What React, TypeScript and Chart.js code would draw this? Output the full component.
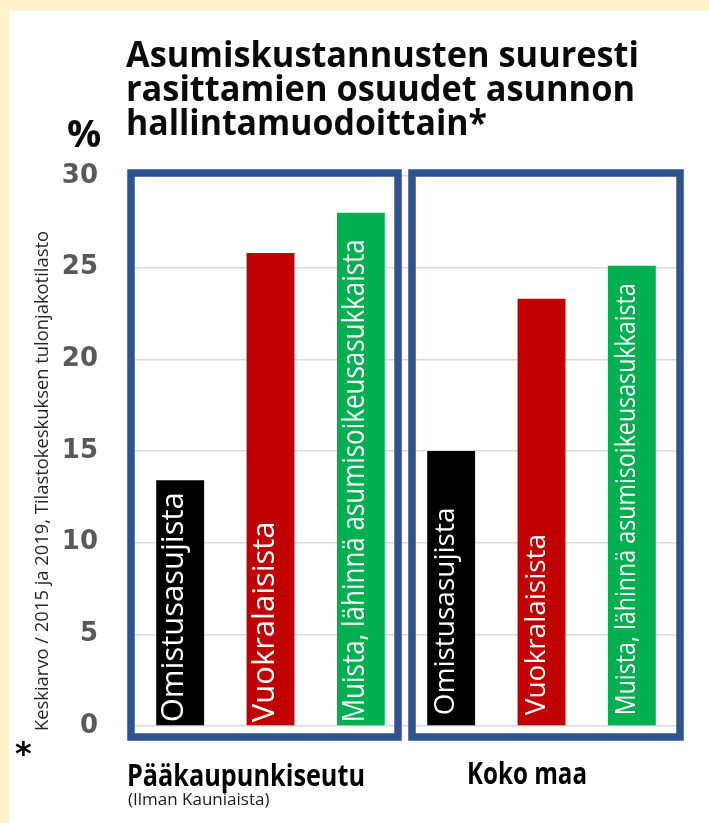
import React, { useEffect, useRef } from "react";
import { Chart, registerables } from "chart.js";

Chart.register(...registerables);

// ---- data ----
const titleLines = [
  "Asumiskustannusten suuresti",
  "rasittamien osuudet asunnon",
  "hallintamuodoittain*",
];
const unitLabel = "%";
const footnote = "Keskiarvo / 2015 ja 2019, Tilastokeskuksen tulonjakotilasto";
const groups = ["Pääkaupunkiseutu", "Koko maa"];
const groupNotes = ["(Ilman Kauniaista)", ""];
const tenures = ["Omistusasujista", "Vuokralaisista", "Muista, lähinnä asumisoikeusasukkaista"];
const capitalValues = [13.4, 25.8, 28.0];
const countryValues = [15.0, 23.3, 25.1];
const yMin = 0;
const yMax = 30;
const yStep = 5;

const tenureColors = ["#000000", "#C00000", "#00B050"];
const CREAM = "#FFF2CC";
const BOX = "#2F5391";

const FONT = "'Open Sans', 'Noto Sans', sans-serif";

const decorPlugin = {
  id: "decor",
  beforeDraw(chart: any) {
    const ctx = chart.ctx;
    ctx.save();
    ctx.fillStyle = CREAM;
    ctx.fillRect(0, 0, chart.width, chart.height);
    ctx.fillStyle = "#ffffff";
    ctx.fillRect(9, 11, chart.width - 9, chart.height - 11);
    ctx.restore();
  },
  afterDatasetsDraw(chart: any) {
    const ctx = chart.ctx;
    const area = chart.chartArea;
    const ys = chart.scales.y;
    const meta = chart.getDatasetMeta(0);
    ctx.save();

    // bar labels (vertical, white)
    meta.data.forEach((bar: any, i: number) => {
      const g = Math.floor(i / tenures.length);
      const size = g === 0 ? 31 : 28;
      const maxLen = g === 0 ? 483 : 432;
      ctx.save();
      ctx.translate(bar.x + 3, bar.base - (g === 0 ? 3 : 10));
      ctx.rotate(-Math.PI / 2);
      ctx.fillStyle = "#ffffff";
      ctx.font = `${size}px ${FONT}`;
      ctx.textAlign = "left";
      ctx.textBaseline = "alphabetic";
      ctx.fillText(tenures[i % tenures.length], 0, 0, maxLen);
      ctx.restore();
    });

    // group boxes
    const n = chart.data.labels.length;
    const w = (area.right - area.left) / n;
    const boundary = area.left + w * tenures.length - 1;
    const top = ys.getPixelForValue(yMax) - 3;
    const bottom = ys.getPixelForValue(yMin) + 11;
    const boxes = [
      [area.left - 4, boundary - 7],
      [boundary + 7, area.right + 3],
    ];
    ctx.strokeStyle = BOX;
    ctx.lineWidth = 7.5;
    boxes.forEach(([l, r]) => {
      ctx.strokeRect(l, top, r - l, bottom - top);
    });

    // group labels
    ctx.fillStyle = "#000000";
    ctx.textAlign = "left";
    ctx.textBaseline = "alphabetic";
    ctx.font = `bold 31px ${FONT}`;
    ctx.fillText(groups[0], boxes[0][0] - 4, 786, 238);
    ctx.fillText(groups[1], boxes[1][0] + 55, 784, 120);
    ctx.font = `17px ${FONT}`;
    ctx.fillStyle = "#1a1a1a";
    ctx.fillText(groupNotes[0], boxes[0][0] - 3, 805, 154);

    ctx.restore();
  },
  afterDraw(chart: any) {
    const ctx = chart.ctx;
    ctx.save();
    // title
    ctx.fillStyle = "#0a0a0a";
    ctx.textAlign = "left";
    ctx.textBaseline = "alphabetic";
    ctx.font = `bold 35px ${FONT}`;
    const widths = [513, 509, 361];
    const baselines = [67, 101, 135];
    titleLines.forEach((t, i) => ctx.fillText(t, 126, baselines[i], widths[i]));
    // unit
    ctx.font = `bold 38px ${FONT}`;
    ctx.fillText(unitLabel, 67, 147, 38);
    // footnote
    ctx.save();
    ctx.translate(48, 731);
    ctx.rotate(-Math.PI / 2);
    ctx.font = `19px ${FONT}`;
    ctx.fillStyle = "#262626";
    ctx.fillText(footnote, 0, 0, 500);
    ctx.restore();
    // asterisk
    ctx.font = `bold 32px 'DejaVu Sans', sans-serif`;
    ctx.fillStyle = "#000000";
    ctx.fillText("*", 15, 764);
    ctx.restore();
  },
};

export default function App() {
  const ref = useRef<HTMLCanvasElement>(null);
  useEffect(() => {
    if (!ref.current) return;
    const labels = groups.flatMap((g) => tenures.map((t) => `${g}: ${t}`));
    const values = [...capitalValues, ...countryValues];
    const colors = groups.flatMap(() => tenureColors);
    const chart = new Chart(ref.current, {
      type: "bar",
      data: {
        labels,
        datasets: [
          {
            data: values,
            backgroundColor: colors,
            borderWidth: 0,
            barPercentage: 0.53,
            categoryPercentage: 1,
          },
        ],
      },
      options: {
        responsive: false,
        animation: false,
        devicePixelRatio: 1,
        layout: { padding: { left: 55, right: 32, top: 176, bottom: 97 } },
        plugins: { legend: { display: false }, tooltip: { enabled: false }, title: { display: false } },
        scales: {
          x: { display: false },
          y: {
            min: yMin,
            max: yMax,
            border: { display: false },
            grid: { color: "#D9D9D9", lineWidth: 1.5, drawTicks: false },
            ticks: {
              stepSize: yStep,
              padding: 37,
              color: "#595959",
              font: { family: "'DejaVu Sans', sans-serif", size: 26, weight: "bold" },
            },
            afterFit: (s: any) => {
              s.width = 80;
            },
          },
        },
      },
      plugins: [decorPlugin],
    });
    return () => chart.destroy();
  }, []);
  return (
    <div style={{ position: "absolute", left: 0, top: 0, width: 709, height: 823 }}>
      <canvas ref={ref} width={709} height={823} style={{ display: "block", width: 709, height: 823 }} />
    </div>
  );
}
